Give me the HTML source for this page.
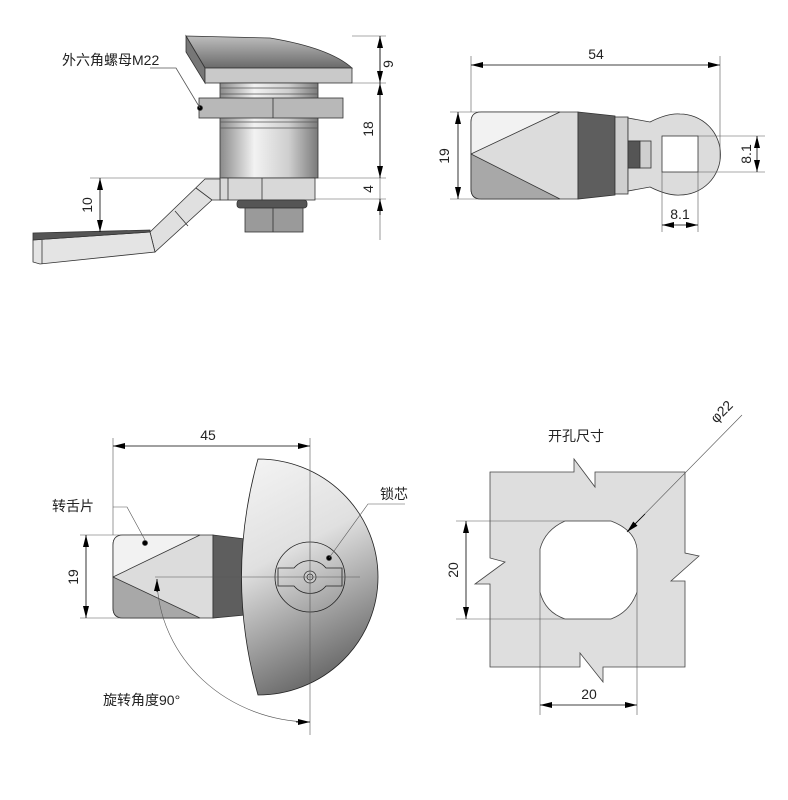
<!DOCTYPE html>
<html><head><meta charset="utf-8"><style>
html,body{margin:0;padding:0;background:#fff;}
svg{display:block;}
text{font-family:"Liberation Sans","Noto Sans CJK SC",sans-serif;fill:#222;}
</style></head><body>
<svg width="788" height="800" viewBox="0 0 788 800" xmlns="http://www.w3.org/2000/svg">
<defs>
<linearGradient id="cyl" x1="0" x2="1" y1="0" y2="0">
<stop offset="0" stop-color="#8a8a8a"/><stop offset="0.35" stop-color="#f2f2f2"/><stop offset="0.7" stop-color="#cfcfcf"/><stop offset="1" stop-color="#7a7a7a"/></linearGradient>
<linearGradient id="disc" x1="0" x2="0.3" y1="0" y2="1">
<stop offset="0" stop-color="#f4f4f4"/><stop offset="0.45" stop-color="#e0e0e0"/><stop offset="1" stop-color="#6e6e6e"/></linearGradient>
<linearGradient id="knob" x1="0" x2="0" y1="0" y2="1">
<stop offset="0" stop-color="#bdbdbd"/><stop offset="1" stop-color="#6a6a6a"/></linearGradient>
<marker id="a" markerWidth="12" markerHeight="6" refX="12" refY="3" orient="auto-start-reverse" markerUnits="userSpaceOnUse">
<path d="M0,0 L12,3 L0,6 Z" fill="#000"/></marker>
</defs>
<g stroke="#333" stroke-width="0.8" fill="none">
<!-- ===== TOP LEFT ===== -->
<path d="M186,36 L270,38 Q330,48 352,68 L205,68 Z" fill="url(#knob)"/>
<path d="M186,36 L205,68 L205,83 L186,52 Z" fill="#777"/>
<rect x="205" y="68" width="147" height="15" fill="#c9c9c9"/>
<rect x="220" y="83" width="98" height="95" fill="url(#cyl)"/>
<path d="M220,88 H318 M220,94 H318 M220,122 H318 M220,128 H318" stroke="#555"/>
<rect x="199" y="98" width="144" height="20" fill="#b8b8b8"/>
<line x1="273" y1="98" x2="273" y2="118"/>
<circle cx="200" cy="108" r="2.5" fill="#000"/>
<rect x="220" y="178" width="95" height="22" fill="#d8d8d8"/>
<line x1="262" y1="178" x2="262" y2="200"/>
<line x1="228" y1="178" x2="228" y2="200"/>
<rect x="237" y="200" width="70" height="8" rx="3" fill="#555"/>
<rect x="245" y="208" width="58" height="24" fill="#9a9a9a"/>
<line x1="273" y1="208" x2="273" y2="232"/>
<!-- lever -->
<path d="M150,232 L205,179 L220,179 L220,200 L212,200 L155,252 Z" fill="#e0e0e0"/>
<line x1="175" y1="211" x2="188" y2="226"/>
<line x1="196" y1="188" x2="212" y2="200"/>
<path d="M33,240 L150,232 L155,252 L40,264 L33,262 Z" fill="#e4e4e4"/>
<path d="M33,233 L150,230 L150,232 L33,240 Z" fill="#555"/>
<line x1="42" y1="240" x2="42" y2="264"/>
<polyline points="150,68 176,68 200,108" stroke="#555"/>
<g stroke="#555" stroke-width="0.6">
<line x1="352" y1="36" x2="386" y2="36"/><line x1="352" y1="83" x2="386" y2="83"/>
<line x1="318" y1="178" x2="386" y2="178"/><line x1="315" y1="199" x2="386" y2="199"/>
<line x1="90" y1="178" x2="222" y2="178"/>
<line x1="380" y1="36" x2="380" y2="240"/>
</g>
<line x1="380" y1="36" x2="380" y2="83" stroke="#000" marker-start="url(#a)" marker-end="url(#a)"/>
<line x1="380" y1="83" x2="380" y2="178" stroke="#000" marker-start="url(#a)" marker-end="url(#a)"/>
<line x1="380" y1="199" x2="380" y2="215" stroke="#000" marker-start="url(#a)"/>
<line x1="100" y1="178" x2="100" y2="232" stroke="#000" marker-start="url(#a)" marker-end="url(#a)"/>

<!-- ===== TOP RIGHT ===== -->
<path d="M471,122 Q471,112 481,112 L578,112 L578,199 L481,199 Q471,199 471,189 Z" fill="#dcdcdc"/>
<path d="M481,112 L560,112 L471,154 L471,122 Q471,112 481,112Z" fill="#f2f2f2"/>
<path d="M471,154 L560,199 L481,199 Q471,199 471,189 Z" fill="#a8a8a8"/>
<path d="M578,112 L615,116 L615,195 L578,199 Z" fill="#5e5e5e"/>
<rect x="615" y="117" width="13" height="77" fill="#cfcfcf"/>
<path d="M628,118 L650,122 Q668,113 680,114 A40.5,40.5 0 0 1 680,195 Q668,196 650,187 L628,191 Z" fill="#dcdcdc"/>
<rect x="628" y="141" width="23" height="27" fill="#cfcfcf"/>
<rect x="628" y="141" width="12" height="27" fill="#555"/>
<rect x="662" y="136" width="36" height="36" fill="#fff"/>
<g stroke="#555" stroke-width="0.6">
<line x1="471" y1="56" x2="471" y2="112"/><line x1="720" y1="56" x2="720" y2="160"/>
<line x1="450" y1="112" x2="481" y2="112"/><line x1="450" y1="199" x2="481" y2="199"/>
<line x1="698" y1="136" x2="765" y2="136"/><line x1="698" y1="172" x2="765" y2="172"/>
<line x1="662" y1="172" x2="662" y2="232"/><line x1="698" y1="172" x2="698" y2="232"/>
</g>
<line x1="471" y1="65" x2="720" y2="65" stroke="#000" marker-start="url(#a)" marker-end="url(#a)"/>
<line x1="458" y1="112" x2="458" y2="199" stroke="#000" marker-start="url(#a)" marker-end="url(#a)"/>
<line x1="757" y1="136" x2="757" y2="172" stroke="#000" marker-start="url(#a)" marker-end="url(#a)"/>
<line x1="662" y1="225" x2="698" y2="225" stroke="#000" marker-start="url(#a)" marker-end="url(#a)"/>

<!-- ===== BOTTOM LEFT ===== -->
<path d="M113,545 Q113,535 123,535 L213,535 L213,618 L123,618 Q113,618 113,608 Z" fill="#dcdcdc"/>
<path d="M123,535 L200,535 L113,577 L113,545 Q113,535 123,535Z" fill="#f2f2f2"/>
<path d="M113,577 L200,618 L123,618 Q113,618 113,608 Z" fill="#a8a8a8"/>
<path d="M213,535 L245,539 L245,615 L213,618 Z" fill="#5e5e5e"/>
<path d="M258,459 A120,118 0 0 1 258,695 Q225,577 258,459 Z" fill="url(#disc)" stroke="#222"/>
<circle cx="310" cy="577" r="35" fill="none" stroke="#222"/>
<path d="M294,568 A21,21 0 0 1 326,568 L342,568 L342,586 L326,586 A21,21 0 0 1 294,586 L278,586 L278,568 Z" fill="none" stroke="#222"/>
<circle cx="310" cy="577" r="6" fill="#ccc"/>
<circle cx="310" cy="577" r="3"/>
<circle cx="329" cy="558" r="2.5" fill="#000"/>
<g stroke="#555" stroke-width="0.6">
<line x1="310" y1="438" x2="310" y2="735"/>
<line x1="113" y1="438" x2="113" y2="535"/>
<line x1="155" y1="577" x2="360" y2="577"/>
<line x1="80" y1="535" x2="130" y2="535"/><line x1="80" y1="618" x2="130" y2="618"/>
<polyline points="113,507 127,507 145,540" />
<polyline points="405,504 368,504 329,558"/>
<path d="M157,580 A155,145 0 0 0 310,722"/>
</g>
<circle cx="145" cy="543" r="2.5" fill="#000"/>
<line x1="113" y1="446" x2="310" y2="446" stroke="#000" marker-start="url(#a)" marker-end="url(#a)"/>
<line x1="86" y1="535" x2="86" y2="618" stroke="#000" marker-start="url(#a)" marker-end="url(#a)"/>
<line x1="157" y1="592" x2="157" y2="579" stroke="#000" marker-end="url(#a)"/>
<line x1="296" y1="722" x2="310" y2="722" stroke="#000" marker-end="url(#a)"/>

<!-- ===== BOTTOM RIGHT ===== -->
<path d="M490,472 L574,472 L574,459 L595,487 L595,472 L685,472 L685,553 L699,556 L671,581 L685,581 L685,667 L603,667 L603,682 L580,653 L580,667 L490,667 L490,584 L475,584 L505,562 L490,558 Z" fill="#dedede" stroke="#444"/>
<path d="M565,521 L611,521 Q635,530 637,549 L637,592 Q630,612 611,619 L565,619 Q545,612 540,592 L540,549 Q545,530 565,521 Z" fill="#fff" stroke="#444"/>
<g stroke="#555" stroke-width="0.6">
<line x1="456" y1="521" x2="611" y2="521"/><line x1="456" y1="619" x2="611" y2="619"/>
<line x1="540" y1="592" x2="540" y2="715"/><line x1="637" y1="592" x2="637" y2="715"/>
<line x1="742" y1="415" x2="632" y2="527"/>
</g>
<line x1="466" y1="521" x2="466" y2="619" stroke="#000" marker-start="url(#a)" marker-end="url(#a)"/>
<line x1="540" y1="705" x2="637" y2="705" stroke="#000" marker-start="url(#a)" marker-end="url(#a)"/>
<line x1="645" y1="514" x2="627" y2="532" stroke="#000" marker-end="url(#a)"/>
</g>
<g font-size="14">
<text x="62" y="65">外六角螺母M22</text>
<text x="389" y="64" transform="rotate(-90 389 64)" text-anchor="middle" dy="4">9</text>
<text x="369" y="129" transform="rotate(-90 369 129)" text-anchor="middle" dy="4">18</text>
<text x="369" y="189" transform="rotate(-90 369 189)" text-anchor="middle" dy="4">4</text>
<text x="88" y="205" transform="rotate(-90 88 205)" text-anchor="middle" dy="4">10</text>
<text x="596" y="59" text-anchor="middle">54</text>
<text x="445" y="156" transform="rotate(-90 445 156)" text-anchor="middle" dy="4">19</text>
<text x="747" y="154" transform="rotate(-90 747 154)" text-anchor="middle" dy="4">8.1</text>
<text x="680" y="219" text-anchor="middle">8.1</text>
<text x="208" y="440" text-anchor="middle">45</text>
<text x="52" y="511">转舌片</text>
<text x="380" y="499">锁芯</text>
<text x="74" y="577" transform="rotate(-90 74 577)" text-anchor="middle" dy="4">19</text>
<text x="103" y="705">旋转角度90°</text>
<text x="548" y="441">开孔尺寸</text>
<text x="725" y="415" transform="rotate(-45 725 415)" text-anchor="middle">φ22</text>
<text x="454" y="570" transform="rotate(-90 454 570)" text-anchor="middle" dy="4">20</text>
<text x="589" y="699" text-anchor="middle">20</text>
</g>
</svg>
</body></html>
